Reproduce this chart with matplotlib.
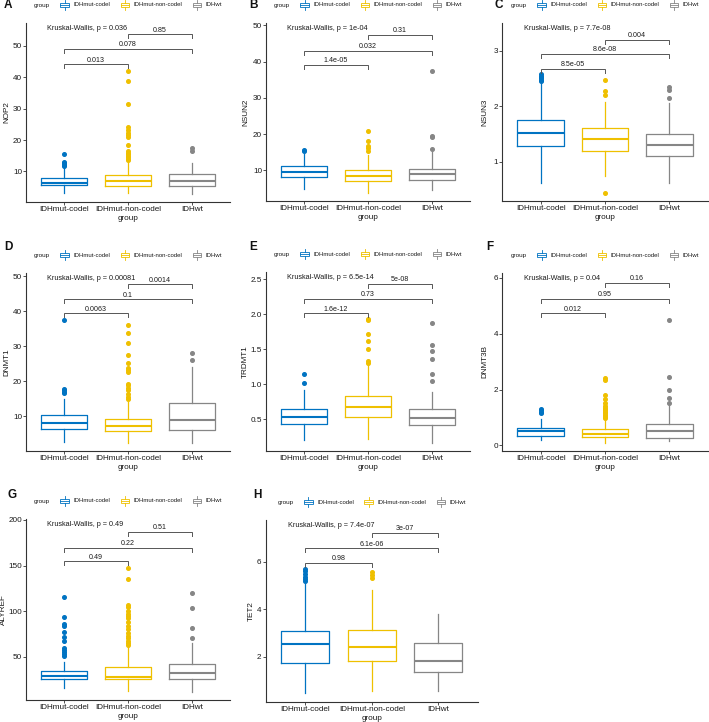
import matplotlib
matplotlib.use("Agg")
import matplotlib.pyplot as plt
from matplotlib.patches import Rectangle
from matplotlib.lines import Line2D
from matplotlib.offsetbox import HPacker, TextArea, DrawingArea, AnchoredOffsetbox

plt.rcParams['font.family'] = ['Liberation Sans', 'DejaVu Sans']

# ---------------- data ----------------
groups = ["IDHmut-codel", "IDHmut-non-codel", "IDHwt"]
group_colors = ["#0073C2", "#EFC000", "#868686"]
genes = ["NOP2", "NSUN2", "NSUN3", "DNMT1", "TRDMT1", "DNMT3B", "ALYREF", "TET2"]
letters = ["A", "B", "C", "D", "E", "F", "G", "H"]

# box stats per group: [whisker_low, q1, median, q3, whisker_high]
NOP2_box = [[3.2, 5.6, 6.4, 7.8, 11.5], [3.2, 5.5, 7.0, 8.8, 13.0], [3.0, 5.4, 7.1, 9.2, 12.8]]
NOP2_out = [[11.8, 12.1, 12.4, 12.7, 13.0, 15.6],
            [13.5, 14.0, 14.5, 15.0, 15.5, 16.0, 16.5, 18.4, 21.1, 21.7, 22.3, 23.2, 24.2, 31.6, 38.9, 42.1],
            [16.6, 17.4]]
NOP2_kw = "0.036"
NOP2_p = ["0.013", "0.078", "0.85"]
NOP2_py = [44.1, 48.9, 53.6]
NOP2_ticks = [10, 20, 30, 40, 50]

NSUN2_box = [[5.0, 8.2, 9.6, 11.1, 14.6], [3.9, 7.0, 8.6, 10.1, 14.4], [4.7, 7.5, 9.0, 10.5, 15.0]]
NSUN2_out = [[15.3, 15.7], [15.5, 16.2, 16.8, 18.0, 21.0], [15.9, 19.2, 19.4, 37.3]]
NSUN2_kw = "1e-04"
NSUN2_p = ["1.4e-05", "0.032", "0.31"]
NSUN2_py = [39.0, 43.0, 47.4]
NSUN2_ticks = [10, 20, 30, 40, 50]

NSUN3_box = [[0.62, 1.28, 1.51, 1.75, 2.42], [0.74, 1.19, 1.40, 1.60, 2.08], [0.61, 1.10, 1.30, 1.49, 2.05]]
NSUN3_out = [[2.45, 2.48, 2.50, 2.52, 2.55, 2.58], [0.44, 2.20, 2.27, 2.48], [2.15, 2.30, 2.34]]
NSUN3_kw = "7.7e-08"
NSUN3_p = ["8.5e-05", "8.6e-08", "0.004"]
NSUN3_py = [2.67, 2.94, 3.20]
NSUN3_ticks = [1, 2, 3]

DNMT1_box = [[2.6, 6.4, 8.0, 10.4, 14.8], [2.2, 5.9, 7.3, 9.2, 14.0], [2.4, 6.2, 8.9, 13.7, 24.0]]
DNMT1_out = [[16.6, 17.0, 17.4, 17.8, 37.5],
             [14.8, 15.5, 16.5, 17.5, 18.2, 18.8, 19.2, 22.8, 23.3, 23.8, 25.2, 27.6, 30.9, 33.8, 36.0],
             [26.0, 28.2]]
DNMT1_kw = "0.00081"
DNMT1_p = ["0.0063", "0.1", "0.0014"]
DNMT1_py = [39.5, 43.5, 47.8]
DNMT1_ticks = [10, 20, 30, 40, 50]

TRDMT1_box = [[0.20, 0.44, 0.53, 0.65, 0.92], [0.22, 0.53, 0.68, 0.84, 1.27], [0.16, 0.42, 0.52, 0.65, 0.89]]
TRDMT1_out = [[1.02, 1.14], [1.30, 1.33, 1.51, 1.61, 1.71, 1.91, 1.93], [1.05, 1.15, 1.36, 1.48, 1.56, 1.87]]
TRDMT1_kw = "6.5e-14"
TRDMT1_p = ["1.6e-12", "0.73", "5e-08"]
TRDMT1_py = [2.01, 2.22, 2.43]
TRDMT1_ticks = [0.5, 1.0, 1.5, 2.0, 2.5]

DNMT3B_box = [[0.18, 0.35, 0.52, 0.63, 0.96], [0.10, 0.30, 0.42, 0.60, 0.90], [0.16, 0.28, 0.50, 0.75, 1.50]]
DNMT3B_out = [[1.15, 1.20, 1.28, 1.32],
              [0.98, 1.02, 1.06, 1.10, 1.15, 1.20, 1.25, 1.30, 1.35, 1.40, 1.52, 1.65, 1.80, 2.35, 2.40],
              [1.52, 1.70, 1.98, 2.45, 4.50]]
DNMT3B_kw = "0.04"
DNMT3B_p = ["0.012", "0.95", "0.16"]
DNMT3B_py = [4.73, 5.25, 5.81]
DNMT3B_ticks = [0, 2, 4, 6]

ALYREF_box = [[15.3, 25.1, 28.4, 34.2, 44.0], [12.7, 25.1, 28.0, 38.6, 61.0], [11.6, 25.1, 32.4, 41.5, 65.0]]
ALYREF_out = [[51, 53, 55, 57, 59, 67, 72, 77, 84, 86, 93, 115],
              [63, 65, 67, 70, 73, 76, 80, 84, 88, 92, 95, 97, 100, 105, 107, 135, 147],
              [70, 81, 103, 120]]
ALYREF_kw = "0.49"
ALYREF_p = ["0.49", "0.22", "0.51"]
ALYREF_py = [154.7, 169.6, 186.7]
ALYREF_ticks = [50, 100, 150, 200]

TET2_box = [[0.46, 1.76, 2.55, 3.08, 5.05], [0.55, 1.83, 2.42, 3.14, 4.82], [0.55, 1.36, 1.82, 2.60, 3.80]]
TET2_out = [[5.20, 5.28, 5.35, 5.50, 5.60, 5.70], [5.32, 5.42, 5.58], []]
TET2_kw = "7.4e-07"
TET2_p = ["0.98", "6.1e-06", "3e-07"]
TET2_py = [5.96, 6.56, 7.22]
TET2_ticks = [2, 4, 6]

pairs = [(1, 2), (1, 3), (2, 3)]

panels = [
    (NOP2_box, NOP2_out, NOP2_kw, NOP2_p, NOP2_py, NOP2_ticks),
    (NSUN2_box, NSUN2_out, NSUN2_kw, NSUN2_p, NSUN2_py, NSUN2_ticks),
    (NSUN3_box, NSUN3_out, NSUN3_kw, NSUN3_p, NSUN3_py, NSUN3_ticks),
    (DNMT1_box, DNMT1_out, DNMT1_kw, DNMT1_p, DNMT1_py, DNMT1_ticks),
    (TRDMT1_box, TRDMT1_out, TRDMT1_kw, TRDMT1_p, TRDMT1_py, TRDMT1_ticks),
    (DNMT3B_box, DNMT3B_out, DNMT3B_kw, DNMT3B_p, DNMT3B_py, DNMT3B_ticks),
    (ALYREF_box, ALYREF_out, ALYREF_kw, ALYREF_p, ALYREF_py, ALYREF_ticks),
    (TET2_box, TET2_out, TET2_kw, TET2_p, TET2_py, TET2_ticks),
]

# ---------------- layout (pixels) ----------------
W, H = 709, 722
# left, top, right, bottom
boxes_px = [(26, 23, 230, 202), (266, 23, 470, 201), (502, 23, 708, 201),
            (26, 273, 230, 451), (266, 272, 470, 451), (502, 273, 708, 451),
            (26, 519, 230, 700), (265.5, 520, 478, 702)]
ylims = [(0.3, 57.2), (1.6, 50.6), (0.29, 3.5), (0.05, 51.0), (0.05, 2.6),
         (-0.2, 6.17), (2.5, 201), (0.1, 7.75)]
letter_px = [(7.5, 5.5), (253.5, 5.5), (498.5, 5.5), (8.5, 247), (253.5, 247),
             (489.5, 247), (12, 495), (257, 495)]
ylabel_off = [18.7, 20, 16.7, 18.7, 21, 17, 22.7, 14.5]

fig = plt.figure(figsize=(W / 100, H / 100), dpi=100)
TXT = "#1a1a1a"


def key_glyph(color):
    da = DrawingArea(7.2, 7.0, 0, 0)
    da.add_artist(Rectangle((0.5, 1.9), 6.2, 3.2, fill=False, edgecolor=color, lw=0.6))
    da.add_artist(Line2D([0.5, 6.7], [3.5, 3.5], color=color, lw=0.6))
    da.add_artist(Line2D([3.6, 3.6], [0.2, 1.9], color=color, lw=0.6))
    da.add_artist(Line2D([3.6, 3.6], [5.1, 6.8], color=color, lw=0.6))
    return da


for i, (bx, outl, kw, plabels, py, ticks) in enumerate(panels):
    l, t, r, b = boxes_px[i]
    ax = fig.add_axes([l / W, 1 - b / H, (r - l) / W, (b - t) / H])
    hpx = b - t
    wpx = r - l
    for g in range(3):
        wl, q1, med, q3, wh = bx[g]
        st = [dict(med=med, q1=q1, q3=q3, whislo=wl, whishi=wh, fliers=outl[g])]
        c = group_colors[g]
        ax.bxp(st, positions=[g + 1], widths=0.72, showcaps=False, showfliers=True,
               boxprops=dict(color=c, lw=0.9),
               whiskerprops=dict(color=c, lw=0.9),
               medianprops=dict(color=c, lw=1.5),
               flierprops=dict(marker='o', markersize=2.6, markerfacecolor=c,
                               markeredgecolor=c, linestyle='none'))
    ax.set_xlim(0.4, 3.6)
    ax.set_ylim(*ylims[i])
    ax.set_xticks([1, 2, 3])
    ax.set_xticklabels(groups)
    ax.set_yticks(ticks)
    ax.tick_params(axis='both', labelsize=5.9, length=2, width=0.6, pad=0.8,
                   colors='#333333', labelcolor=TXT)
    for s in ['top', 'right']:
        ax.spines[s].set_visible(False)
    for s in ['left', 'bottom']:
        ax.spines[s].set_linewidth(0.8)
        ax.spines[s].set_color('#333333')
    ax.patch.set_visible(False)

    # axis titles
    ax.text(-ylabel_off[i] / wpx, 0.5, genes[i], transform=ax.transAxes, rotation=90,
            ha='center', va='center', fontsize=5.9, color=TXT)
    ax.text(0.5, -16.6 / hpx, "group", transform=ax.transAxes, ha='center', va='center',
            fontsize=5.9, color=TXT)

    # Kruskal-Wallis label
    ax.text(0.105, 0.97, "Kruskal-Wallis, p = " + kw, transform=ax.transAxes,
            ha='left', va='center', fontsize=5.2, color=TXT)

    # brackets
    y0, y1 = ylims[i]
    tip = 0.022 * (y1 - y0)
    for (a, c2), lab, yy in zip(pairs, plabels, py):
        ax.plot([a, a, c2, c2], [yy - tip, yy, yy, yy - tip], color='#555555', lw=0.7,
                solid_joinstyle='miter')
        ax.annotate(lab, xy=((a + c2) / 2, yy), xytext=(0, 3.0), textcoords='offset points',
                    ha='center', va='center', fontsize=5.1, color=TXT)

    # legend
    items = [TextArea("group", textprops=dict(fontsize=4.6, color=TXT))]
    for g in range(3):
        ent = HPacker(children=[key_glyph(group_colors[g]),
                                TextArea(groups[g], textprops=dict(fontsize=4.35, color=TXT))],
                      align='center', pad=0, sep=2.6)
        items.append(ent)
    pk = HPacker(children=items, align='center', pad=0, sep=7.0)
    anch = AnchoredOffsetbox(loc='center', child=pk, pad=0, borderpad=0, frameon=False,
                             bbox_to_anchor=(0.5, 1 + 18 / hpx), bbox_transform=ax.transAxes)
    ax.add_artist(anch)

    # panel letter
    lx, ly = letter_px[i]
    fig.text(lx / W, 1 - ly / H, letters[i], ha='center', va='center', fontsize=8.5,
             fontweight='bold', color='#111111')

fig.savefig("out.png", dpi=100)
